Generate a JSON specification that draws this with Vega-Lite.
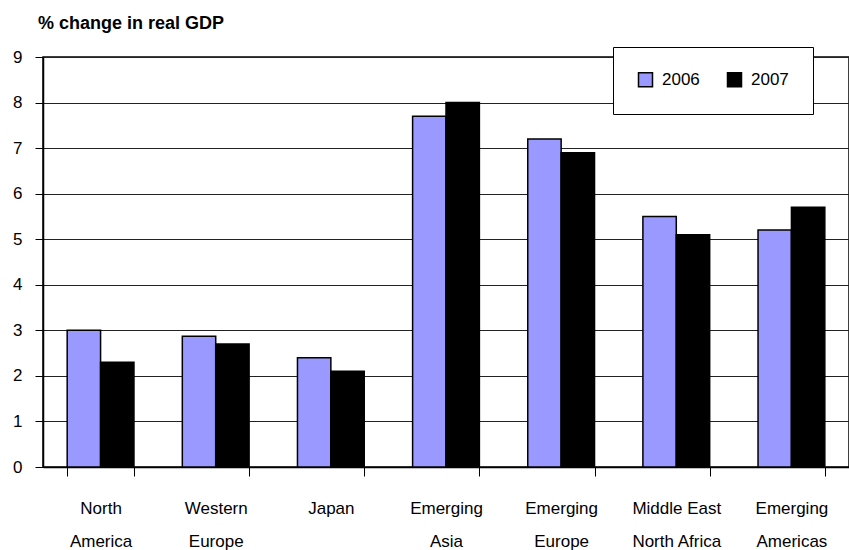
{
  "$schema": "https://vega.github.io/schema/vega-lite/v6.json",
  "autosize": {"type": "none"},
  "width": 806,
  "height": 410,
  "padding": {"left": 43, "top": 57, "right": 0, "bottom": 83},
  "background": "white",
  "title": {
    "text": "% change in real GDP",
    "anchor": "start",
    "frame": "group",
    "font": "Liberation Sans",
    "fontSize": 18,
    "fontWeight": "bold",
    "color": "#000000",
    "baseline": "alphabetic",
    "offset": 0,
    "dx": -5
  },
  "config": {
    "font": "Liberation Sans",
    "view": {"stroke": "#000000", "strokeWidth": 1.5},
    "axis": {
      "labelFont": "Liberation Sans",
      "labelFontSize": 17,
      "labelColor": "#000000",
      "domainColor": "#000000",
      "tickColor": "#000000",
      "titleFontSize": 17
    }
  },
  "data": {
    "values": [
      {"region": "North America", "year": "2006", "value": 3.0},
      {"region": "North America", "year": "2007", "value": 2.3},
      {"region": "Western Europe", "year": "2006", "value": 2.87},
      {"region": "Western Europe", "year": "2007", "value": 2.7},
      {"region": "Japan", "year": "2006", "value": 2.4},
      {"region": "Japan", "year": "2007", "value": 2.1},
      {"region": "Emerging Asia", "year": "2006", "value": 7.7},
      {"region": "Emerging Asia", "year": "2007", "value": 8.0},
      {"region": "Emerging Europe", "year": "2006", "value": 7.2},
      {"region": "Emerging Europe", "year": "2007", "value": 6.9},
      {"region": "Middle East North Africa", "year": "2006", "value": 5.5},
      {"region": "Middle East North Africa", "year": "2007", "value": 5.1},
      {"region": "Emerging Americas", "year": "2006", "value": 5.2},
      {"region": "Emerging Americas", "year": "2007", "value": 5.7}
    ]
  },
  "mark": {"type": "bar", "stroke": "#000000", "strokeWidth": 1.5},
  "encoding": {
    "x": {
      "field": "region",
      "type": "nominal",
      "sort": null,
      "scale": {"paddingInner": 0.42, "paddingOuter": 0.21},
      "axis": {
        "title": null,
        "labelAngle": 0,
        "tickBand": "extent",
        "tickSize": 9,
        "tickWidth": 1,
        "domainWidth": 1.5,
        "labelPadding": 24,
        "labelLineHeight": 33,
        "labelBaseline": "top",
        "labelExpr": "!isString(datum.value) ? '' : datum.value == 'Middle East North Africa' ? ['Middle East', 'North Africa'] : split(datum.value, ' ')"
      }
    },
    "xOffset": {"field": "year", "type": "nominal"},
    "y": {
      "field": "value",
      "type": "quantitative",
      "scale": {"domain": [0, 9], "nice": false},
      "axis": {
        "title": null,
        "values": [0, 1, 2, 3, 4, 5, 6, 7, 8, 9],
        "grid": true,
        "gridColor": "#222222",
        "gridWidth": 1,
        "gridOpacity": 1,
        "tickSize": 8,
        "tickWidth": 1,
        "domainWidth": 1.5,
        "labelPadding": 13
      }
    },
    "color": {
      "field": "year",
      "type": "nominal",
      "scale": {"domain": ["2006", "2007"], "range": ["#9999FF", "#000000"]},
      "legend": {
        "title": null,
        "orient": "none",
        "legendX": 570,
        "legendY": -10,
        "direction": "horizontal",
        "fillColor": "#ffffff",
        "strokeColor": "#000000",
        "padding": 24,
        "symbolType": "square",
        "symbolSize": 196,
        "symbolStrokeColor": "#000000",
        "symbolStrokeWidth": 1.5,
        "symbolOpacity": 1,
        "labelFontSize": 17,
        "labelFont": "Liberation Sans",
        "labelColor": "#000000",
        "labelOffset": 8,
        "columnPadding": 24
      }
    }
  }
}
